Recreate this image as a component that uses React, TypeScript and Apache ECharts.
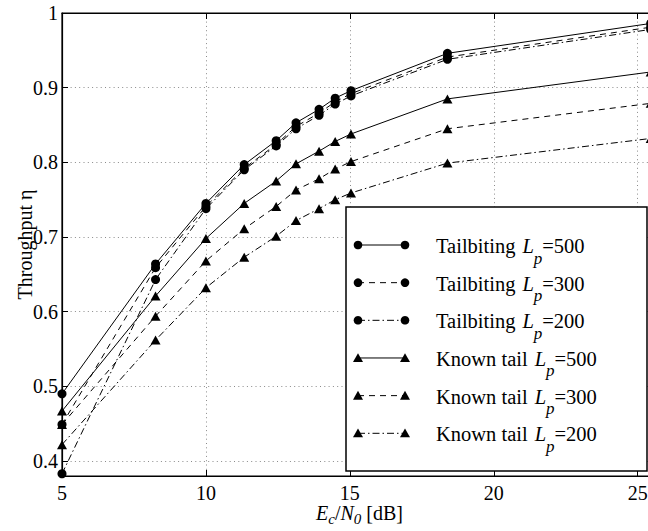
import React, { useEffect, useRef } from 'react';
import * as echarts from 'echarts';

// Ec/N0 [dB]
const xValues = [5, 8.25, 10, 11.33, 12.44, 13.13, 13.93, 14.49, 15.04, 18.39, 25.45];
// Throughput eta
const tailbiting500 = [0.49, 0.664, 0.745, 0.797, 0.829, 0.853, 0.871, 0.886, 0.896, 0.946, 0.986];
const tailbiting300 = [0.449, 0.659, 0.741, 0.792, 0.824, 0.848, 0.866, 0.881, 0.892, 0.941, 0.981];
const tailbiting200 = [0.383, 0.643, 0.738, 0.79, 0.822, 0.845, 0.863, 0.878, 0.889, 0.938, 0.978];
const knownTail500 = [0.467, 0.621, 0.698, 0.745, 0.775, 0.798, 0.815, 0.828, 0.838, 0.885, 0.921];
const knownTail300 = [0.449, 0.594, 0.668, 0.711, 0.741, 0.763, 0.778, 0.791, 0.801, 0.845, 0.879];
const knownTail200 = [0.422, 0.562, 0.632, 0.673, 0.701, 0.722, 0.738, 0.75, 0.759, 0.799, 0.832];

const seriesValues = [tailbiting500, tailbiting300, tailbiting200, knownTail500, knownTail300, knownTail200];
const schemeLabels = ['Tailbiting', 'Tailbiting', 'Tailbiting', 'Known tail', 'Known tail', 'Known tail'];
const packetLengths = [500, 300, 200, 500, 300, 200];
const seriesNames = schemeLabels.map((s, i) => `${s} L_p=${packetLengths[i]}`);

const xTicks = [5, 10, 15, 20, 25];
const yTicks = [0.4, 0.5, 0.6, 0.7, 0.8, 0.9, 1];

const FONT = 'Liberation Serif';
const dashPatterns: any[] = ['solid', [6, 5], [7, 3, 1.5, 3]];
const legendDash: any[] = [null, [6, 5], [7, 3, 1.5, 3]];

export default function App() {
  const ref = useRef<HTMLDivElement>(null);
  useEffect(() => {
    if (!ref.current) return;
    const chart = echarts.init(ref.current, undefined, { renderer: 'svg' });

    const series = seriesValues.map((ys, i) => {
      const isCircle = i < 3;
      return {
        name: seriesNames[i],
        type: 'line',
        data: xValues.map((x, k) => [x, ys[k]]),
        symbol: isCircle ? 'circle' : 'triangle',
        symbolSize: isCircle ? 9 : [10, 9],
        showSymbol: true,
        clip: false,
        itemStyle: { color: '#000' },
        lineStyle: { color: '#000', width: 1, type: dashPatterns[i % 3] },
        emphasis: { disabled: true },
        z: 3,
      };
    });

    // legend (drawn like the reference: markers at both ends of the sample line)
    const lx = 346, ly = 207, lw = 301, lh = 264;
    const rowY0 = 245, rowStep = 37.66;
    const m1 = 358, m2 = 405, tx = 436;
    const legendEls: any[] = [
      {
        type: 'rect',
        shape: { x: lx, y: ly, width: lw, height: lh },
        style: { fill: '#fff', stroke: '#000', lineWidth: 1.5 },
        z: 100,
      },
    ];
    seriesNames.forEach((_, i) => {
      const cy = rowY0 + i * rowStep;
      const isCircle = i < 3;
      legendEls.push({
        type: 'line',
        shape: { x1: m1, y1: cy, x2: m2, y2: cy },
        style: { stroke: '#000', lineWidth: 1, lineDash: legendDash[i % 3] || undefined },
        z: 101,
      });
      [m1, m2].forEach((mx) => {
        if (isCircle) {
          legendEls.push({ type: 'circle', shape: { cx: mx, cy, r: 4.3 }, style: { fill: '#000' }, z: 102 });
        } else {
          legendEls.push({
            type: 'polygon',
            shape: { points: [[mx, cy - 4.8], [mx - 5, cy + 4], [mx + 5, cy + 4]] },
            style: { fill: '#000' },
            z: 102,
          });
        }
      });
      legendEls.push({
        type: 'text',
        x: tx,
        y: cy + 1,
        style: {
          text: `{n|${schemeLabels[i]}}{g|}{i|L}{s|p}{n|=${packetLengths[i]}}`,
          verticalAlign: 'middle',
          align: 'left',
          rich: {
            n: { fontSize: 20.5, fontFamily: FONT, fill: '#000' },
            g: { width: 7 },
            i: { fontSize: 20.5, fontFamily: FONT, fontStyle: 'italic', fill: '#000' },
            s: { fontSize: 17, fontFamily: FONT, fontStyle: 'italic', fill: '#000', padding: [24, 0, 0, 0] },
          },
        },
        z: 103,
      });
    });

    const axisText = { color: '#000', fontSize: 20, fontFamily: FONT };
    const gridLine = { show: true, lineStyle: { color: '#8a8a8a', width: 1, type: [1, 3.3] } };

    chart.setOption({
      animation: false,
      backgroundColor: '#fff',
      grid: {
        left: 62, top: 13, width: 595, height: 463,
        outerBoundsMode: 'none', containLabel: false,
        show: true, borderColor: '#000', borderWidth: 1.2, backgroundColor: 'transparent',
      },
      xAxis: [
        {
          type: 'value',
          min: 5,
          max: 25.67,
          position: 'bottom',
          name: '{i|E}{s|c}{n|/}{i|N}{s|0}{n| [dB]}',
          nameLocation: 'middle',
          nameGap: 23,
          nameMoveOverlap: false,
          nameTextStyle: {
            rich: {
              i: { fontSize: 20, fontFamily: FONT, fontStyle: 'italic', color: '#000' },
              n: { fontSize: 20, fontFamily: FONT, color: '#000' },
              s: { fontSize: 15, fontFamily: FONT, fontStyle: 'italic', color: '#000', padding: [12, 0, 0, 0] },
            },
          },
          axisLine: { show: true, lineStyle: { color: '#000', width: 1.2 } },
          axisTick: { show: true, inside: true, length: 6, customValues: xTicks, lineStyle: { color: '#000' } },
          axisLabel: { ...axisText, customValues: xTicks, margin: 7, formatter: (v: number) => String(v) },
          splitLine: gridLine,
        },
        {
          type: 'value',
          min: 5,
          max: 25.67,
          position: 'top',
          axisLine: { show: true, lineStyle: { color: '#000', width: 1.2 } },
          axisTick: { show: true, inside: true, length: 6, customValues: xTicks, lineStyle: { color: '#000' } },
          axisLabel: { show: false },
          splitLine: { show: false },
        },
      ],
      yAxis: {
        type: 'value',
        min: 0.38,
        max: 1,
        name: 'Throughput η',
        nameLocation: 'middle',
        nameGap: 27,
        nameMoveOverlap: false,
        nameTextStyle: { color: '#000000', fontSize: 20, fontFamily: FONT },
        axisLine: { show: true, lineStyle: { color: '#000', width: 1.2 } },
        axisTick: { show: true, inside: true, length: 6, customValues: yTicks, lineStyle: { color: '#000' } },
        axisLabel: { ...axisText, customValues: yTicks, margin: 4, formatter: (v: number) => String(Math.round(v * 10) / 10) },
        splitLine: gridLine,
      },
      series,
      graphic: legendEls,
    });
    return () => chart.dispose();
  }, []);
  return <div ref={ref} style={{ position: 'fixed', left: 0, top: 0, width: 648, height: 531, background: '#fff' }} />;
}
